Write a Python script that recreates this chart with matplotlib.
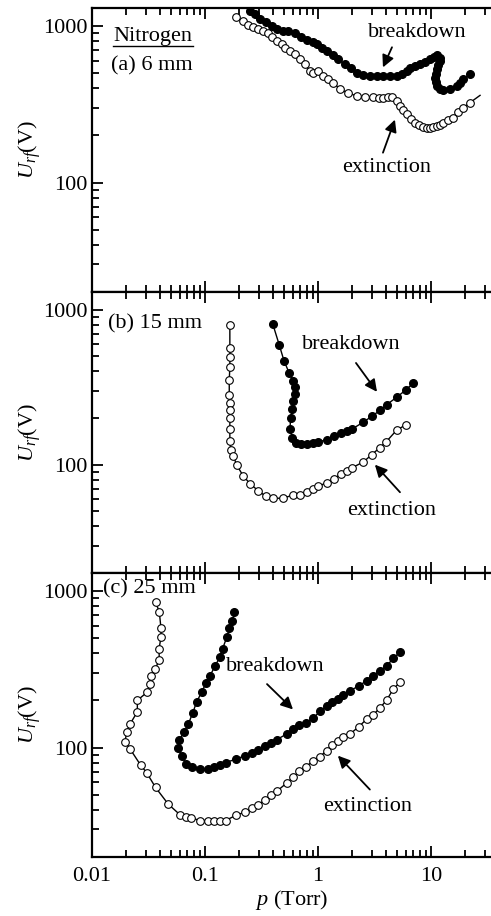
import matplotlib
matplotlib.use('Agg')
import matplotlib.pyplot as plt
from matplotlib.ticker import LogLocator, FixedLocator, FixedFormatter, NullFormatter

plt.rcParams['font.family'] = ['Liberation Serif', 'DejaVu Serif']
plt.rcParams['mathtext.fontset'] = 'custom'
plt.rcParams['mathtext.rm'] = 'Liberation Serif'
plt.rcParams['mathtext.it'] = 'Liberation Serif:italic'

# (a) 6 mm
bd_a_p = [0.250, 0.277, 0.307, 0.347, 0.389, 0.431, 0.493, 0.546, 0.626, 0.703,
          0.794, 0.897, 0.986, 1.08, 1.19, 1.37, 1.51, 1.73, 1.95, 2.23,
          2.52, 2.88, 3.30, 3.79, 4.34, 4.97, 5.50, 6.09, 6.52, 7.20,
          8.00, 8.90, 9.80, 10.6, 11.4, 12.0, 12.0, 11.6, 11.4, 11.0,
          10.8, 11.0, 11.4, 12.0, 12.9, 14.7, 16.9, 18.0, 19.3, 22.1]
bd_a_U = [1237, 1189, 1104, 1051, 1000, 952, 929, 921, 894, 843,
          810, 783, 771, 727, 692, 652, 612, 568, 535, 500,
          483, 480, 480, 479, 480, 482, 495, 515, 541, 555,
          574, 592, 612, 635, 652, 620, 597, 560, 527, 495,
          467, 440, 412, 395, 387, 393, 412, 430, 455, 490]
ex_a_p = [0.190, 0.215, 0.242, 0.268, 0.297, 0.328, 0.363, 0.389, 0.431, 0.477,
          0.510, 0.565, 0.626, 0.693, 0.767, 0.849, 0.908, 1.01, 1.11, 1.23,
          1.37, 1.57, 1.85, 2.20, 2.61, 3.09, 3.45, 3.79, 4.15, 4.49,
          4.97, 5.32, 5.70, 6.09, 6.60, 7.21, 7.80, 8.55, 9.20, 9.80,
          10.5, 11.2, 12.0, 12.9, 14.2, 15.7, 17.5, 19.3, 22.1, 27.2]
ex_a_U = [1132, 1077, 1015, 985, 952, 921, 894, 843, 801, 764,
          727, 692, 659, 612, 568, 515, 500, 515, 479, 455,
          434, 393, 374, 356, 350, 350, 348, 348, 350, 352,
          330, 307, 290, 272, 255, 240, 232, 227, 224, 223,
          226, 229, 234, 240, 250, 259, 280, 300, 323, 360]

# (b) 15 mm
bd_b_p = [0.397, 0.455, 0.500, 0.557, 0.604, 0.626, 0.626, 0.604, 0.593, 0.573,
          0.565, 0.593, 0.639, 0.707, 0.794, 0.908, 1.01, 1.19, 1.40, 1.60,
          1.79, 2.01, 2.52, 2.99, 3.54, 4.06, 4.97, 6.01, 6.98]
bd_b_U = [813, 590, 469, 389, 349, 316, 287, 256, 229, 200,
          170, 149, 138, 135, 135, 138, 140, 145, 153, 159,
          164, 170, 188, 205, 224, 244, 272, 304, 336]
ex_b_p = [0.166, 0.166, 0.166, 0.166, 0.164, 0.164, 0.166, 0.166, 0.166, 0.166,
          0.166, 0.169, 0.178, 0.191, 0.218, 0.250, 0.297, 0.347, 0.397, 0.493,
          0.597, 0.693, 0.794, 0.897, 1.01, 1.19, 1.40, 1.60, 1.79, 2.01,
          2.52, 2.99, 3.54, 4.00, 4.97, 6.01]
ex_b_U = [793, 562, 497, 425, 352, 282, 250, 226, 200, 170,
          142, 125, 114, 99.4, 84.5, 75.5, 67.7, 62.4, 60.6, 60.8,
          63.6, 63.6, 66.7, 69.5, 72.3, 76.7, 81.3, 87.5, 91.0, 95.7,
          104, 116, 129, 140, 167, 181]

# (c) 25 mm
bd_c_p = [0.182, 0.175, 0.164, 0.156, 0.143, 0.136, 0.123, 0.111, 0.102, 0.0935,
          0.0843, 0.0778, 0.0712, 0.0656, 0.0593, 0.0581, 0.0622, 0.0679, 0.0762, 0.0903,
          0.106, 0.121, 0.136, 0.152, 0.188, 0.226, 0.262, 0.297, 0.340, 0.381,
          0.430, 0.528, 0.604, 0.684, 0.778, 0.908, 1.04, 1.19, 1.34, 1.51,
          1.68, 1.92, 2.31, 2.70, 3.09, 3.54, 4.06, 4.64, 5.32]
bd_c_U = [729, 643, 575, 506, 426, 380, 332, 288, 257, 226,
          195, 166, 141, 126, 112, 98.9, 88.6, 79.0, 75.1, 72.6,
          72.6, 75.1, 77.5, 80.1, 84.3, 88.6, 91.8, 96.6, 102, 107,
          112, 122, 131, 139, 144, 154, 170, 184, 195, 205,
          215, 230, 248, 267, 288, 310, 332, 371, 406]
ex_c_p = [0.0365, 0.0394, 0.0408, 0.0408, 0.0392, 0.0394, 0.0363, 0.0330, 0.0326, 0.0309,
          0.0252, 0.0252, 0.0217, 0.0203, 0.0196, 0.0217, 0.0270, 0.0305, 0.0365, 0.0473,
          0.0601, 0.0679, 0.0747, 0.0903, 0.106, 0.121, 0.136, 0.152, 0.188, 0.226,
          0.262, 0.297, 0.340, 0.381, 0.430, 0.528, 0.604, 0.684, 0.778, 0.908,
          1.04, 1.19, 1.34, 1.51, 1.68, 1.92, 2.31, 2.70, 3.09, 3.54,
          4.06, 4.64, 5.32]
ex_c_U = [847, 736, 575, 506, 426, 361, 319, 285, 254, 226,
          200, 169, 141, 126, 109, 98.0, 77.0, 69.0, 55.6, 43.5,
          37.2, 35.9, 35.6, 34.2, 34.2, 34.2, 34.2, 34.2, 36.9, 38.7,
          41.1, 43.2, 46.2, 49.8, 52.4, 59.3, 64.6, 70.7, 75.1, 82.2,
          87.3, 95.5, 103, 110, 117, 122, 136, 152, 162, 179,
          201, 236, 261]

x_ticks = [0.01, 0.1, 1, 10]
x_labels = ['0.01', '0.1', '1', '10']
y_ticks = [100, 1000]
y_labels = ['100', '1000']

fig = plt.figure(figsize=(4.91, 9.16), dpi=100)
left = 92 / 491
w = 1 - left
boxes = [(1 - 292 / 916, 284 / 916), (1 - 573 / 916, 281 / 916), (1 - 857 / 916, 284 / 916)]
axes = [fig.add_axes([left, b, w, h]) for b, h in boxes]

series = [(bd_a_p, bd_a_U, ex_a_p, ex_a_U),
          (bd_b_p, bd_b_U, ex_b_p, ex_b_U),
          (bd_c_p, bd_c_U, ex_c_p, ex_c_U)]

for i, (ax, (bp, bu, ep, eu)) in enumerate(zip(axes, series)):
    ax.plot(ep, eu, '-', color='k', lw=1.0, marker='o', ms=5.5, mfc='white', mec='k', mew=0.8,
            markevery=slice(0, len(ep) - 1 if i == 0 else len(ep)))
    ax.plot(bp, bu, '-', color='k', lw=1.0, marker='o', ms=5.5, mfc='k', mec='k')
    ax.set_xscale('log')
    ax.set_yscale('log')
    ax.set_xlim(0.01, 34)
    ax.set_ylim(20, 1300)
    ax.spines['right'].set_visible(False)
    for s in ['left', 'top', 'bottom']:
        ax.spines[s].set_linewidth(1.6)
    ax.xaxis.set_major_locator(FixedLocator(x_ticks))
    ax.xaxis.set_minor_locator(LogLocator(base=10, subs=range(2, 10)))
    ax.xaxis.set_minor_formatter(NullFormatter())
    ax.yaxis.set_major_locator(FixedLocator(y_ticks))
    ax.yaxis.set_major_formatter(FixedFormatter(y_labels))
    ax.yaxis.set_minor_locator(LogLocator(base=10, subs=range(2, 10)))
    ax.yaxis.set_minor_formatter(NullFormatter())
    ax.tick_params(which='both', direction='in', top=True, right=False, width=1.3, labelsize=16)
    ax.tick_params(which='major', length=8)
    ax.tick_params(which='minor', length=5)
    ax.tick_params(axis='x', which='major', pad=7)
    if i < 2:
        ax.xaxis.set_major_formatter(NullFormatter())
    else:
        ax.xaxis.set_major_formatter(FixedFormatter(x_labels))
        ax.set_xlabel('$p$ (Torr)', fontsize=16, labelpad=2)
    ax.set_ylabel('$U_{rf}$(V)', fontsize=16, labelpad=0)

arrow = dict(arrowstyle='-|>', color='k', lw=1.3, mutation_scale=18, shrinkA=0, shrinkB=0)

ax = axes[0]
ax.text(0.053, 0.901, 'Nitrogen', transform=ax.transAxes, fontsize=16, va='center', ha='left')
ax.plot([0.053, 0.253], [0.866, 0.866], transform=ax.transAxes, color='k', lw=1.0)
ax.text(0.048, 0.796, '(a) 6 mm', transform=ax.transAxes, fontsize=16, va='center', ha='left')
ax.text(7.5, 912, 'breakdown', fontsize=16, ha='center', va='center')
ax.annotate('', xy=(3.76, 543), xytext=(4.52, 730), arrowprops=arrow)
ax.text(4.08, 124, 'extinction', fontsize=16, ha='center', va='center')
ax.annotate('', xy=(4.80, 252), xytext=(3.76, 155), arrowprops=arrow)

ax = axes[1]
ax.text(0.040, 0.886, '(b) 15 mm', transform=ax.transAxes, fontsize=16, va='center', ha='left')
ax.text(1.96, 600, 'breakdown', fontsize=16, ha='center', va='center')
ax.annotate('', xy=(3.33, 295), xytext=(2.17, 453), arrowprops=arrow)
ax.text(4.52, 50.9, 'extinction', fontsize=16, ha='center', va='center')
ax.annotate('', xy=(3.19, 100), xytext=(5.32, 66.4), arrowprops=arrow)

ax = axes[2]
ax.text(0.028, 0.944, '(c) 25 mm', transform=ax.transAxes, fontsize=16, va='center', ha='left')
ax.text(0.416, 328, 'breakdown', fontsize=16, ha='center', va='center')
ax.annotate('', xy=(0.601, 175), xytext=(0.354, 254), arrowprops=arrow)
ax.text(2.77, 41.8, 'extinction', fontsize=16, ha='center', va='center')
ax.annotate('', xy=(1.50, 88.7), xytext=(2.88, 53.9), arrowprops=arrow)

fig.savefig('out.png', dpi=100)
